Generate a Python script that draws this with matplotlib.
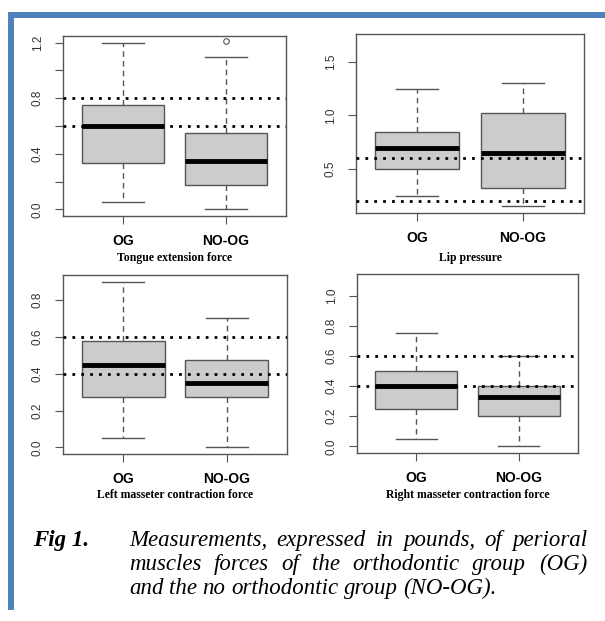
import matplotlib
matplotlib.use('Agg')
from matplotlib import pyplot as plt
from matplotlib.patches import Rectangle

W, H = 605, 621

groups = ['OG', 'NO-OG']

# box stats per panel: [lower whisker, Q1, median, Q3, upper whisker]
tongue_og = [0.05, 0.33, 0.60, 0.75, 1.20]
tongue_noog = [0.00, 0.175, 0.35, 0.55, 1.10]
tongue_fliers = [[], [1.21]]

lip_og = [0.25, 0.50, 0.70, 0.85, 1.25]
lip_noog = [0.15, 0.32, 0.65, 1.02, 1.30]

left_og = [0.05, 0.275, 0.45, 0.575, 0.90]
left_noog = [0.00, 0.275, 0.35, 0.475, 0.70]

right_og = [0.05, 0.25, 0.40, 0.50, 0.75]
right_noog = [0.00, 0.20, 0.325, 0.40, 0.60]

# dotted reference lines
tongue_ref = [0.8, 0.6]
lip_ref = [0.6, 0.2]
left_ref = [0.6, 0.4]
right_ref = [0.6, 0.4]

tongue_ticks = [0.0, 0.2, 0.4, 0.6, 0.8, 1.0, 1.2]
tongue_labels = ['0.0', '', '0.4', '', '0.8', '', '1.2']
lip_ticks = [0.5, 1.0, 1.5]
lip_labels = ['0.5', '1.0', '1.5']
left_ticks = [0.0, 0.2, 0.4, 0.6, 0.8]
left_labels = ['0.0', '0.2', '0.4', '0.6', '0.8']
right_ticks = [0.0, 0.2, 0.4, 0.6, 0.8, 1.0]
right_labels = ['0.0', '0.2', '0.4', '0.6', '0.8', '1.0']

titles = ['Tongue extension force', 'Lip pressure',
          'Left masseter contraction force', 'Right masseter contraction force']

caption_lines = ['Measurements, expressed in pounds, of perioral',
                 'muscles forces of the orthodontic group (OG)',
                 'and the no orthodontic group (NO-OG).']

BLUE = '#4f81bd'
EDGE = '#555555'

fig = plt.figure(figsize=(W / 100, H / 100), dpi=100)


def px_axes(x0, y0, x1, y1):
    return fig.add_axes([x0 / W, 1 - y1 / H, (x1 - x0) / W, (y1 - y0) / H])


def stats(vals, fl, label):
    return dict(whislo=vals[0], q1=vals[1], med=vals[2], q3=vals[3], whishi=vals[4],
                fliers=fl, label=label)


def panel(box, og, noog, fliers, ylim, ref, ticks, labels, title, title_y):
    ax = px_axes(*box)
    bs = [stats(og, fliers[0], groups[0]), stats(noog, fliers[1], groups[1])]
    ax.bxp(bs, positions=[1, 2], widths=0.8, capwidths=0.4, patch_artist=True,
           boxprops=dict(facecolor='#cccccc', edgecolor=EDGE, linewidth=1),
           medianprops=dict(color='black', linewidth=3.5, solid_capstyle='butt'),
           whiskerprops=dict(color=EDGE, linewidth=1, linestyle=(0, (4, 3))),
           capprops=dict(color=EDGE, linewidth=1),
           flierprops=dict(marker='o', markersize=4, markerfacecolor='none',
                           markeredgecolor=EDGE, markeredgewidth=0.8))
    for r in ref:
        ax.axhline(r, color='black', linewidth=2, linestyle=(0, (1, 2.2)), zorder=5)
    ax.set_xlim(0.42, 2.58)
    ax.set_ylim(*ylim)
    ax.set_yticks(ticks)
    ax.set_yticklabels(labels)
    ax.set_xticks([1, 2])
    ax.set_xticklabels(groups, fontweight='bold', fontsize=10,
                       family='Liberation Sans')
    ax.tick_params(axis='y', labelrotation=90, length=6, pad=8, colors=EDGE,
                   labelcolor='#333333', labelsize=8.5)
    ax.tick_params(axis='x', length=6, pad=7, colors=EDGE, labelcolor='black')
    for lab in ax.get_yticklabels():
        lab.set_family('Liberation Sans')
        lab.set_va('center')
    for s in ax.spines.values():
        s.set_color(EDGE)
        s.set_linewidth(1)
    cx = (box[0] + box[2]) / 2
    fig.text(cx / W, 1 - title_y / H, title, ha='center', va='center',
             family='Liberation Serif', fontweight='bold', fontsize=8.5)
    return ax


panel((63, 36, 286, 216), tongue_og, tongue_noog, tongue_fliers,
      (-0.048, 1.248), tongue_ref, tongue_ticks, tongue_labels, titles[0], 258)
panel((356, 34, 584, 213), lip_og, lip_noog, [[], []],
      (0.088, 1.762), lip_ref, lip_ticks, lip_labels, titles[1], 258)
panel((63, 275, 287, 454), left_og, left_noog, [[], []],
      (-0.036, 0.936), left_ref, left_ticks, left_labels, titles[2], 495)
panel((357, 274, 578, 453), right_og, right_noog, [[], []],
      (-0.044, 1.144), right_ref, right_ticks, right_labels, titles[3], 495)

# blue page border
fig.patches.append(Rectangle((8 / W, 1 - 18 / H), 1, 6 / H, transform=fig.transFigure,
                             facecolor=BLUE, edgecolor='none'))
fig.patches.append(Rectangle((8 / W, 1 - 610 / H), 6 / W, 598 / H,
                             transform=fig.transFigure, facecolor=BLUE, edgecolor='none'))

# caption, justified like the source
fig.text(33 / W, 1 - 546 / H, 'Fig 1.', family='Liberation Serif', fontweight='bold',
         style='italic', fontsize=16.5, va='baseline')
renderer = fig.canvas.get_renderer()
x0, x1 = 129, 587
line_y = [546, 570, 594]
for i, line in enumerate(caption_lines):
    words = line.split(' ')
    items = []
    for w in words:
        t = fig.text(0, 1 - line_y[i] / H, w, family='Liberation Serif', style='italic',
                     fontsize=16.5, va='baseline')
        items.append((t, t.get_window_extent(renderer).width))
    if i < len(caption_lines) - 1:
        gap = (x1 - x0 - sum(wd for _, wd in items)) / (len(items) - 1)
    else:
        gap = 5.5
    x = x0
    for t, wd in items:
        t.set_x(x / W)
        x += wd + gap

fig.savefig('out.png', dpi=100)
